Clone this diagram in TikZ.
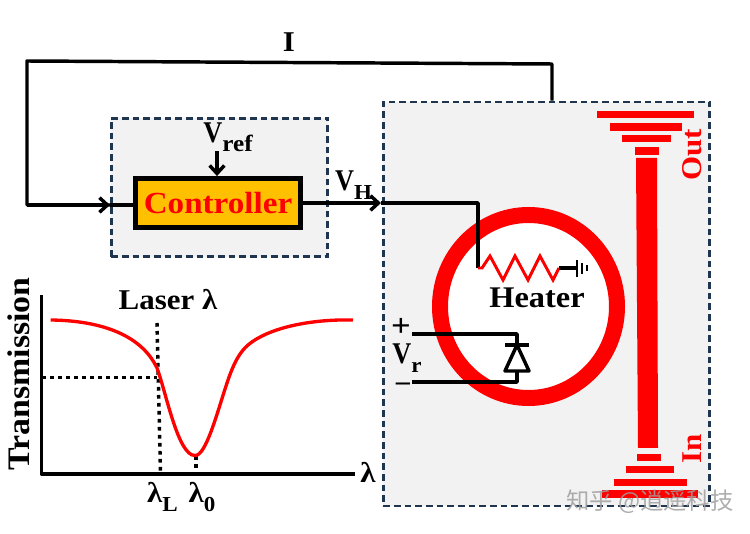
\documentclass[tikz,border=0pt]{standalone}
\usepackage{fontspec}
\usepackage{graphicx}
\setmainfont{Liberation Serif}[FakeStretch=1.08]
\newfontfamily\cjk{Noto Sans CJK SC}
\usetikzlibrary{arrows.meta,calc,positioning}
\definecolor{panelfill}{HTML}{F2F2F2}
\definecolor{panelline}{HTML}{1F3550}
\definecolor{ctrlfill}{HTML}{FFC000}
\definecolor{wgred}{HTML}{FF0000}
\newcommand{\lowtxt}[2][16]{\raisebox{-0.3em}{\fontsize{#1}{18}\selectfont #2}}
\newcommand{\vlab}[2][16]{\scalebox{0.85}[1.05]{V}\lowtxt[#1]{#2}}
\tikzset{
  panel/.style    = {draw=panelline, fill=panelfill, line width=2.1pt,
                     dash pattern=on 5pt off 3pt, inner sep=0pt},
  ctrlbox/.style  = {draw=black, fill=ctrlfill, line width=3.4pt, text=wgred, inner sep=0pt,
                     minimum width=124pt, minimum height=37pt},
  wire/.style     = {line width=2.6pt, line join=round},
  barb/.style     = {-{Straight Barb[length=6pt,width=11pt]}},
  dotwire/.style  = {line width=2.6pt, dash pattern=on 2.8pt off 3.2pt},
  lab/.style      = {font=\bfseries\fontsize{21.5}{24}\selectfont, inner sep=0pt},
  redlab/.style   = {lab, text=wgred, rotate=90},
  ringwg/.style   = {draw=wgred, fill=white, line width=12pt},
  heaterw/.style  = {draw=wgred, line width=2.2pt, line join=miter},
  gndbar/.style   = {line width=1.9pt},
}
\begin{document}
\begin{tikzpicture}[x=0.75pt,y=-0.75pt]
  \useasboundingbox (0,0) rectangle (750,534);
  % panels
  \node[panel, minimum width=162.5pt, minimum height=104pt] (ctrlpanel) at (219.5,187.5) {};
  \node[panel, minimum width=245pt, minimum height=303pt] (chip) at (546.5,304) {};
  \node[ctrlbox] (ctrl) at (218,203) {\bfseries\fontsize{23}{24}\selectfont Controller};
  % ring and bus waveguide
  \draw[ringwg] (528.5,306.5) ellipse [x radius=88.5, y radius=91.5];
  \fill[wgred] (636,158) -- (657,158) -- (658,448) -- (638,448) -- cycle;
  \foreach \xa/\xb/\ya/\yb in {597/694/111/118, 610/682/123/131, 622/671/135/142, 635/659/147/155,
                               637/661/454/461, 626/674/466/473, 614/687/479/486, 602/698/490/498}
    {\fill[wgred] (\xa,\ya) rectangle (\xb,\yb);}
  \node[redlab] (outlab) at (692,155) {Out};
  \node[redlab] (inlab) at (692,449) {In};
  % feedback
  \coordinate (itap) at (552,64);
  \coordinate (ileft) at (27,61);
  \coordinate (ilow) at (27,205);
  \coordinate (inarrow) at (110,205);
  \draw[wire] (chip.north -| itap) -- (itap) -- (ileft) -- (ilow) -- (inarrow);
  \draw[wire, barb] (ilow) -- (inarrow);
  \draw[wire] (inarrow) -- (ctrl.west |- inarrow);
  \node[lab] (ilab) at (289,42) {I};
  \coordinate (vrefend) at (217,151);
  \draw[wire, barb] (vrefend) -- (ctrl.north -| vrefend);
  \node[lab] (vref) at (228,137) {\vlab[17.5]{ref}};
  % heater
  \coordinate (vharrow) at (381,203);
  \coordinate (hcorner) at (478,203);
  \coordinate (hend) at (478,268);
  \coordinate (gnd) at (577,268);
  \draw[wire, barb] (ctrl.east |- vharrow) -- (vharrow);
  \draw[wire] (vharrow) -- (hcorner) -- (hend);
  \node[lab] (vh) at (353.5,185) {\vlab{H}};
  \draw[heaterw] (hend) -- (482,268) -- (490,256) -- (503,280) -- (515,256) -- (528,280)
    -- (540,256) -- (553,280) -- (559,268);
  \draw[wire] (559,268) -- (gnd);
  \draw[gndbar] (577,260) -- (577,277);
  \draw[gndbar] (582,263) -- (582,274);
  \draw[gndbar] (587,265.5) -- (587,271.5);
  \node[lab, font=\bfseries\fontsize{22.5}{24}\selectfont] (heater) at (537,298) {Heater};
  % diode
  \coordinate (dtop) at (517,334);
  \coordinate (dbot) at (517,382);
  \draw[wire] (412,334) -- (dtop) -- (517,345);
  \draw[wire] (412,382) -- (dbot) -- (517,371);
  \draw[wire] (505,345) -- (529,345);
  \draw[wire, fill=white] (517,345) -- (529,371) -- (505,371) -- cycle;
  \node[lab, font=\bfseries\fontsize{24}{24}\selectfont] (plus) at (401,327) {+};
  \node[lab] (vr) at (407,358) {\vlab{r}};
  \node[lab] (minus) at (403,388) {−};
  % transmission plot
  \coordinate (origin) at (41.5,474);
  \draw[wire] (41.5,295) -- (origin) -- (355,474);
  \draw[dotwire] (157,323) -- (160.5,473);
  \draw[dotwire] (42,377.5) -- (157,377.5);
  \draw[dotwire] (196,456) -- (196,473);
  \draw[wgred, line width=2.5pt] (50.7,320) .. controls (95,320.5) and (140,332) .. (157,368)
    .. controls (166,392) and (178,456) .. (195,455.5) .. controls (206,456) and (217,413) .. (227,383)
    .. controls (234,362) and (240,352) .. (248,345) .. controls (268,328) and (310,319) .. (353,320);
  \node[lab] (laser) at (168,300) {Laser λ};
  \node[lab, rotate=90, font=\bfseries\fontsize{23.5}{24}\selectfont] (trans) at (19,374) {Transmission};
  \node[lab] (lamax) at (368,472) {λ};
  \node[lab] (lamL) at (162.5,497) {λ\lowtxt{L}};
  \node[lab] (lam0) at (202,497) {λ\lowtxt{0}};
  % mark
  \node[font=\cjk\fontsize{17.5}{18}\selectfont, text=gray!75, opacity=0.85, inner sep=0pt] (mark) at (650,502) {知乎 @逍遥科技};
\end{tikzpicture}
\end{document}
